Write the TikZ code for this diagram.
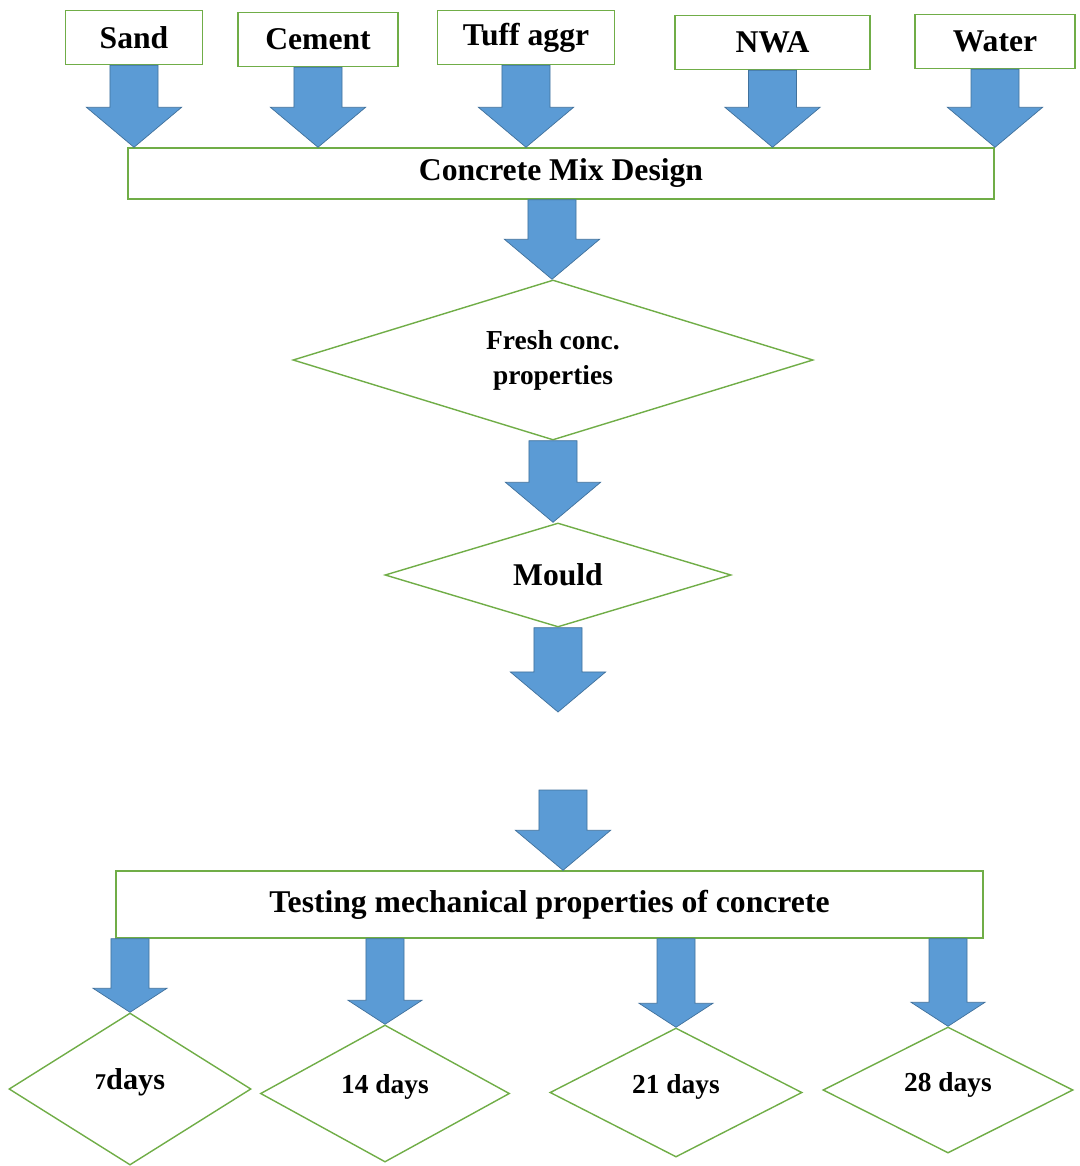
\documentclass[tikz,border=0pt]{standalone}
\usepackage{fontspec}
\setmainfont{Liberation Serif}
\usetikzlibrary{shapes.geometric,calc,positioning}
\definecolor{leaf}{RGB}{112,173,71}
\definecolor{sky}{RGB}{91,155,213}
\definecolor{skyedge}{RGB}{65,113,156}
\tikzset{
  box/.style={draw=leaf,line width=1pt,fill=white,minimum width=#1,minimum height=1.35cm,
    inner sep=0pt,font=\fontsize{22.5}{26}\selectfont\bfseries},
  long box/.style={draw=leaf,line width=1pt,minimum width=#1,inner sep=0pt,
    font=\fontsize{22.5}{26}\selectfont\bfseries},
  check/.style={diamond,draw=leaf,line width=1pt,inner sep=0pt,align=center,aspect=#1,
    font=\fontsize{19.5}{25}\selectfont\bfseries},
  check/.default=1,
  % block arrows
  shaft w/.store in=\shaftw, head w/.store in=\headw, head l/.store in=\headl,
  shaft w=0.6cm, head w=1.19cm, head l=1cm,
  flow/.style={fill=sky,draw=skyedge,line width=0.5pt,
    to path={let \p1=(\tikztostart),\p2=(\tikztotarget) in
      (\x1-\shaftw,\y1) -- (\x1-\shaftw,\y2+\headl) -- (\x1-\headw,\y2+\headl) -- (\x1,\y2)
      -- (\x1+\headw,\y2+\headl) -- (\x1+\shaftw,\y2+\headl) -- (\x1+\shaftw,\y1) -- cycle}},
  small flow/.style={flow,shaft w=0.475cm,head w=0.925cm,head l=0.6cm},
}
\begin{document}
\begin{tikzpicture}[x=0.025cm,y=-0.025cm]
  \useasboundingbox (0,0) rectangle (1080,1166);
  \node[box=3.425cm] (sand) at (134,37.5) {Sand};
  \node[box=4cm] (cement) at (318,39.5) {Cement};
  \node[box=4.425cm] (tuff) at (526,37.5) {Tuff aggr};
  \node[box=4.875cm] (nwa) at (772.5,42.5) {NWA};
  \node[box=4cm] (water) at (995,41.5) {Water};
  \node[long box=21.65cm,minimum height=1.275cm] (mix) at (561,173.5) {Concrete Mix Design};
  \node[check=3.25,minimum width=13cm,minimum height=4cm] (fresh) at (553,360)
    {\raisebox{-11pt}{\shortstack{Fresh conc.\\[8pt]properties}}};
  \node[check=3.33,minimum width=8.65cm,minimum height=2.6cm,font=\fontsize{22.5}{26}\selectfont\bfseries]
    (mould) at (558,575) {Mould};
  \coordinate (gapend) at (561,712);
  \coordinate (gapstart) at (563,790);
  \node[long box=21.675cm,minimum height=1.675cm] (test) at (549.5,904.5)
    {Testing mechanical properties of concrete};
  \node[check=1.6,minimum width=6.05cm,minimum height=3.8cm] (d7) at (130,1089)
    {\raisebox{14pt}{{\fontsize{16}{20}\selectfont 7}\fontsize{21.5}{25}\selectfont days}};
  \node[check=1.82,minimum width=6.225cm,minimum height=3.425cm] (d14) at (385,1093.5) {\raisebox{14pt}{14 days}};
  \node[check=1.95,minimum width=6.3cm,minimum height=3.225cm] (d21) at (676,1092.5) {\raisebox{12pt}{21 days}};
  \node[check=1.98,minimum width=6.25cm,minimum height=3.15cm] (d28) at (948,1090) {\raisebox{12pt}{28 days}};

  \foreach \src in {sand,cement,tuff,nwa,water}
    \path[flow] (\src.south) to (mix.north);
  \path[flow] ($(mix.south)+(-9,0)$) to (fresh.north);
  \path[flow] (fresh.south) to (mould.north);
  \path[flow] (mould.south) to (gapend);
  \path[flow] (gapstart) to (test.north);
  \foreach \d in {d7,d14,d21,d28}
    \path[small flow] (test.south -| \d.north) to (\d.north);
\end{tikzpicture}
\end{document}
